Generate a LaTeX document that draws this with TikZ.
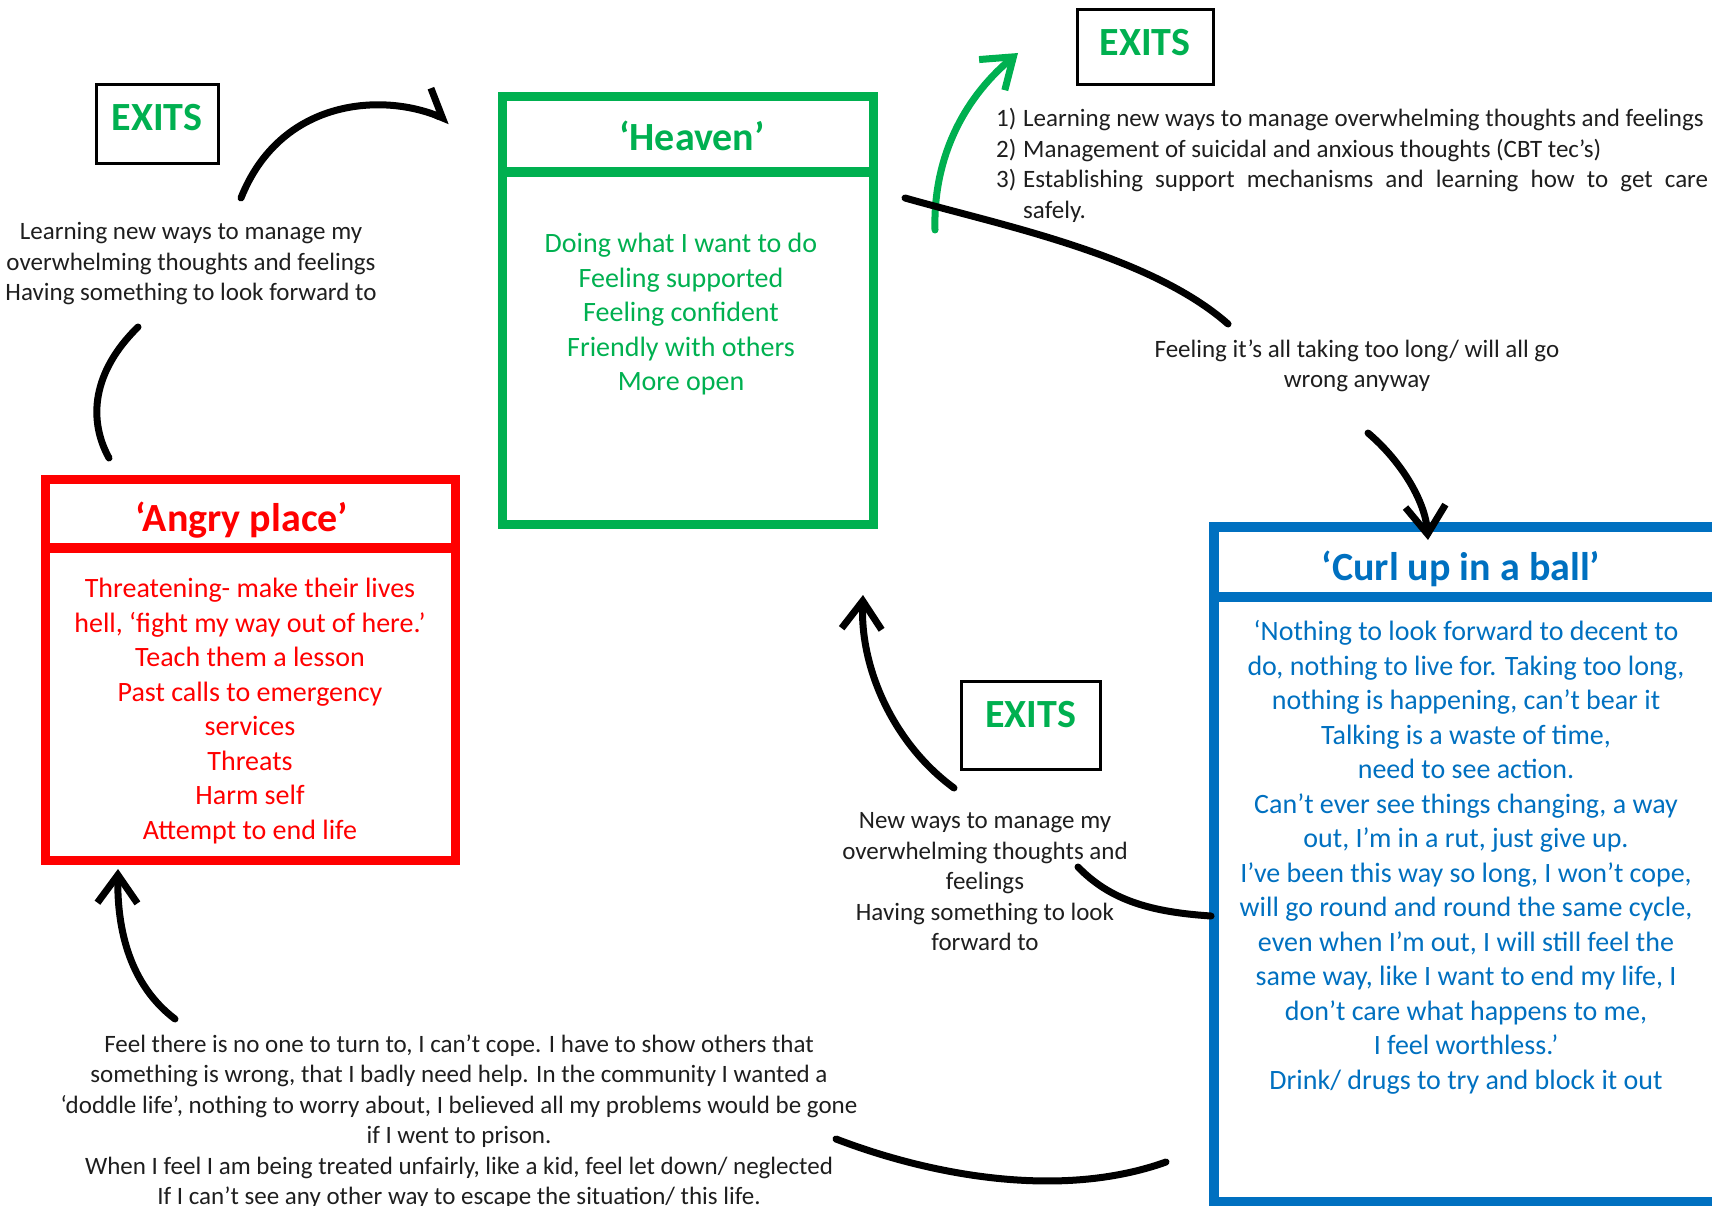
\documentclass[tikz,border=0pt]{standalone}
\usepackage{fontspec}
\setmainfont{Carlito}
\usetikzlibrary{arrows.meta}
\definecolor{hgreen}{RGB}{0,176,80}
\definecolor{hred}{RGB}{255,0,0}
\definecolor{hblue}{RGB}{0,112,192}
\definecolor{ink}{RGB}{30,30,30}
\tikzset{
  statebox/.style={draw, line width=9pt, rectangle, inner sep=0pt, outer sep=0pt},
  titletext/.style={font=\fontsize{40}{48}\selectfont\bfseries, inner sep=0pt},
  bodytext/.style={font=\fontsize{28}{34.5}\selectfont, align=center, inner sep=0pt},
  labeltext/.style={font=\fontsize{25}{30.5}\selectfont, align=center, inner sep=0pt, text=ink},
  exitbox/.style={draw=black, line width=3pt, rectangle, inner sep=0pt},
  exittext/.style={inner sep=0pt, text=hgreen, font=\fontsize{40}{48}\selectfont\bfseries},
  conn/.style={draw=black, line width=7pt, line cap=round},
  arr/.style={-{Straight Barb[length=28pt,width=40pt]}},
  harp/.style={-{Straight Barb[harpoon,length=22pt,width=46pt]}},
}
\begin{document}
\begin{tikzpicture}[x=1pt,y=-1pt]
\useasboundingbox (0,0) rectangle (1712,1206);
% boxes
\node[statebox, draw=hgreen, minimum width=371pt, minimum height=427pt] (heaven) at (687.5,310.5) {};
\node[statebox, draw=hred, minimum width=410pt, minimum height=381pt] (angry) at (250.5,670) {};
\node[statebox, draw=hblue, line width=10pt, minimum width=540pt, minimum height=675pt, anchor=north west] (curl) at (1214,527) {};
\draw[hgreen, line width=10pt] (heaven.west |- 0,172) -- (heaven.east |- 0,172);
\draw[hred, line width=10pt] (angry.west |- 0,548) -- (angry.east |- 0,548);
\draw[hblue, line width=10pt] (curl.west |- 0,597) -- (curl.east |- 0,597);
% titles
\node[titletext, text=hgreen] (heaventitle) at (692,136) {‘Heaven’};
\node[titletext, text=hred] (angrytitle) at (242,520) {‘Angry place’};
\node[titletext, text=hblue] (curltitle) at (1461,569) {‘Curl up in a ball’};
% bodies
\node[bodytext, text=hgreen] (heavenbody) at (681,314.5) {Doing what I want to do\\Feeling supported\\Feeling confident\\Friendly with others\\More open};
\node[bodytext, text=hred] (angrybody) at (250,711) {Threatening- make their lives\\hell, ‘fight my way out of here.’\\Teach them a lesson\\Past calls to emergency\\services\\Threats\\Harm self\\Attempt to end life};
\node[bodytext, text=hblue] (curlbody) at (1466,857.5) {‘Nothing to look forward to decent to\\do, nothing to live for. Taking too long,\\nothing is happening, can’t bear it\\Talking is a waste of time,\\need to see action.\\Can’t ever see things changing, a way\\out, I’m in a rut, just give up.\\I’ve been this way so long, I won’t cope,\\will go round and round the same cycle,\\even when I’m out, I will still feel the\\same way, like I want to end my life, I\\don’t care what happens to me,\\I feel worthless.’\\Drink/ drugs to try and block it out};
% exits
\node[exitbox, minimum width=122pt, minimum height=79pt] (exits1) at (157,124.5) {};
\node[exitbox, minimum width=136pt, minimum height=75pt] (exits2) at (1145,47.5) {};
\node[exitbox, minimum width=139pt, minimum height=88pt] (exits3) at (1030.5,725) {};
\node[exittext] (exits1text) at ([yshift=6.5pt]exits1.center) {EXITS};
\node[exittext] (exits2text) at ([yshift=4.5pt]exits2.center) {EXITS};
\node[exittext] (exits3text) at ([yshift=10pt]exits3.center) {EXITS};
% labels
\node[labeltext] (lbltl) at (191,264) {Learning new ways to manage my\\overwhelming thoughts and feelings\\Having something to look forward to};
\node[labeltext] (lbltoo) at (1357,366) {Feeling it’s all taking too long/ will all go\\wrong anyway};
\node[labeltext] (lblmid) at (985,882) {New ways to manage my\\overwhelming thoughts and\\feelings\\Having something to look\\forward to};
\node[labeltext] (lblbot) at (459,1121.5) {Feel there is no one to turn to, I can’t cope. I have to show others that\\something is wrong, that I badly need help. In the community I wanted a\\‘doddle life’, nothing to worry about, I believed all my problems would be gone\\if I went to prison.\\When I feel I am being treated unfairly, like a kid, feel let down/ neglected\\If I can’t see any other way to escape the situation/ this life.};
\node[labeltext, align=justify, text width=712pt, anchor=north west] (lbllist) at (996,108.5) {\parindent=0pt\hangindent=27pt\hangafter=1\makebox[27pt][l]{1)}Learning new ways to manage overwhelming thoughts and feelings\par
\hangindent=27pt\hangafter=1\makebox[27pt][l]{2)}Management of suicidal and anxious thoughts (CBT tec’s)\par
\hangindent=27pt\hangafter=1\makebox[27pt][l]{3)}Establishing support mechanisms and learning how to get care\linebreak safely.\par};
% connector endpoints
\coordinate (a1) at (241,198); \coordinate (a2) at (450,121);
\coordinate (b1) at (109,458); \coordinate (b2) at (138,327);
\coordinate (c1) at (935,230); \coordinate (c2) at (1018,53);
\coordinate (d1) at (905,198); \coordinate (d2) at (1228,324);
\coordinate (e1) at (1368,433); \coordinate (e2) at (1428,540);
\coordinate (f1) at (954,788); \coordinate (f2) at (863,595);
\coordinate (g1) at (1211,916); \coordinate (g2) at (1078,867);
\coordinate (h1) at (836,1139); \coordinate (h2) at (1166,1162);
\coordinate (i1) at (175,1019); \coordinate (i2) at (118,869);
% connectors
\draw[conn, harp] (a1) .. controls (280,100) and (380,92) .. (a2);
\draw[conn] (b1) .. controls (88,420) and (92,372) .. (b2);
\draw[conn, draw=hgreen, arr] (c1) .. controls (933,160) and (962,100) .. (c2);
\draw[conn] (d1) .. controls (1000,225) and (1150,255) .. (d2);
\draw[conn, arr] (e1) .. controls (1400,460) and (1425,500) .. (e2);
\draw[conn, arr] (f1) .. controls (895,745) and (860,670) .. (f2);
\draw[conn] (g1) .. controls (1150,912) and (1110,900) .. (g2);
\draw[conn] (h1) .. controls (930,1175) and (1060,1200) .. (h2);
\draw[conn, arr] (i1) .. controls (130,985) and (117,930) .. (i2);
\end{tikzpicture}
\end{document}
